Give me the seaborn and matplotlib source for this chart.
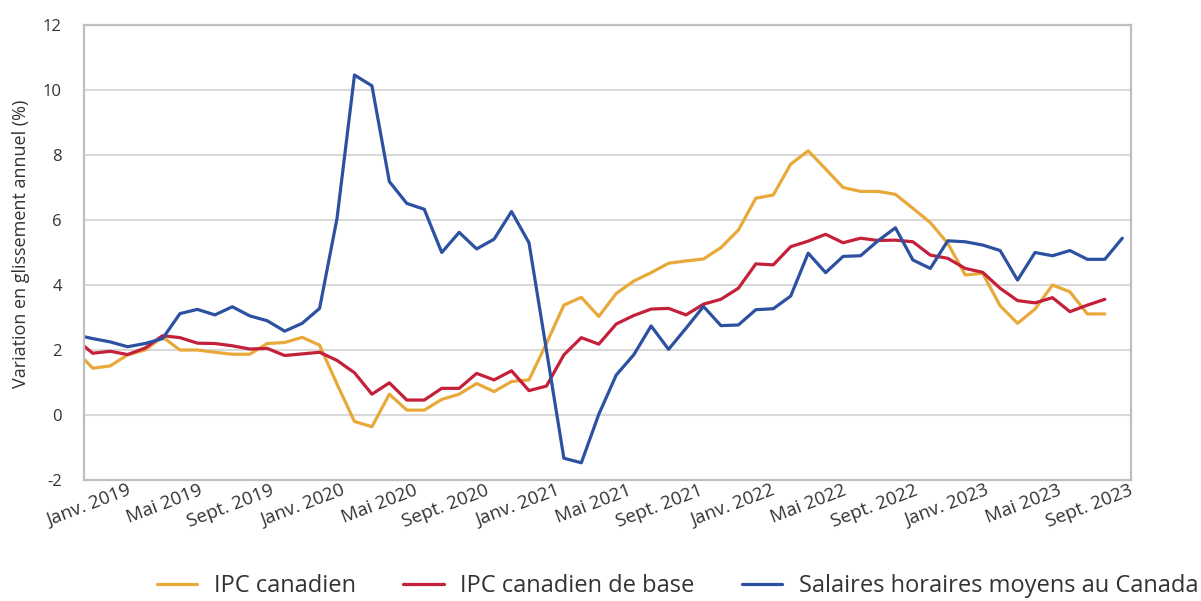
import numpy as np
import pandas as pd
import matplotlib
matplotlib.use("Agg")
import matplotlib.pyplot as plt
from matplotlib.lines import Line2D
import seaborn as sns

# ---- data (month index: -1 = Dec 2018, 0 = Jan 2019, ...) ----
ipc = [2.0, 1.44, 1.51, 1.85, 2.0, 2.4, 2.0, 2.0, 1.93, 1.87, 1.87, 2.2, 2.23,
       2.39, 2.15, 0.95, -0.2, -0.36, 0.64, 0.15, 0.15, 0.48, 0.64, 0.97, 0.72,
       1.03, 1.08, 2.2, 3.38, 3.62, 3.03, 3.74, 4.12, 4.38, 4.67, 4.74, 4.8,
       5.15, 5.69, 6.67, 6.77, 7.72, 8.13, 7.57, 7.0, 6.88, 6.88, 6.79, 6.36,
       5.92, 5.28, 4.31, 4.36, 3.36, 2.82, 3.26, 4.0, 3.79, 3.11, 3.11]
ipc_base = [2.34, 1.9, 1.96, 1.86, 2.06, 2.44, 2.38, 2.21, 2.2, 2.13, 2.03, 2.05,
            1.83, 1.88, 1.93, 1.68, 1.3, 0.64, 0.99, 0.46, 0.46, 0.82, 0.82,
            1.28, 1.08, 1.36, 0.75, 0.89, 1.85, 2.38, 2.18, 2.8, 3.06, 3.26,
            3.28, 3.08, 3.41, 3.56, 3.9, 4.65, 4.62, 5.18, 5.35, 5.56, 5.3,
            5.44, 5.37, 5.38, 5.33, 4.92, 4.82, 4.51, 4.39, 3.9, 3.52, 3.45,
            3.61, 3.18, 3.38, 3.56]
salaires = [2.47, 2.35, 2.25, 2.1, 2.2, 2.35, 3.12, 3.25, 3.08, 3.33, 3.05, 2.9,
            2.58, 2.82, 3.28, 6.05, 10.46, 10.13, 7.18, 6.51, 6.33, 5.0, 5.62,
            5.11, 5.41, 6.26, 5.3, 2.0, -1.33, -1.47, 0.02, 1.23, 1.85, 2.74,
            2.02, 2.67, 3.34, 2.75, 2.77, 3.24, 3.27, 3.66, 4.98, 4.38, 4.88,
            4.9, 5.36, 5.76, 4.77, 4.51, 5.36, 5.33, 5.23, 5.06, 4.15, 5.0,
            4.9, 5.06, 4.79, 4.79, 5.44]

series_names = ["IPC canadien", "IPC canadien de base",
                "Salaires horaires moyens au Canada"]
colors = ["#E9A93A", "#C4203A", "#2C51A0"]

tick_months = list(range(0, 57, 4))
tick_labels = ["Janv. 2019", "Mai 2019", "Sept. 2019", "Janv. 2020", "Mai 2020",
               "Sept. 2020", "Janv. 2021", "Mai 2021", "Sept. 2021", "Janv. 2022",
               "Mai 2022", "Sept. 2022", "Janv. 2023", "Mai 2023", "Sept. 2023"]
y_ticks = [-2, 0, 2, 4, 6, 8, 10, 12]
y_tick_labels = ["-2", "0", "2", "4", "6", "8", "10", "12"]

frames = []
for name, vals in zip(series_names, [ipc, ipc_base, salaires]):
    frames.append(pd.DataFrame({"mois": np.arange(-1, -1 + len(vals)),
                                "valeur": vals, "serie": name}))
df = pd.concat(frames, ignore_index=True)

# ---- style ----
sns.set_style("white")
plt.rcParams["font.family"] = ["Open Sans", "DejaVu Sans"]

fig = plt.figure(figsize=(12.01, 6.01), dpi=100)
ax = fig.add_axes([84 / 1201, 1 - 480 / 601, (1131 - 84) / 1201, (480 - 25) / 601])

sns.lineplot(data=df, x="mois", y="valeur", hue="serie", hue_order=series_names,
             palette=colors, linewidth=2.3, ax=ax, legend=False, sort=False)

ax.set_xlim(-0.5, 59.5)
ax.set_ylim(-2, 12)
ax.set_yticks(y_ticks)
ax.set_yticklabels(y_tick_labels, fontsize=12, color="#333333")

# rotated labels are anchored by their top-right corner, to the right of each month
label_anchor = np.array(tick_months) * 1.025 + 1.96
ax.set_xticks(label_anchor)
ax.set_xticklabels(tick_labels, fontsize=13.5, color="#333333", rotation=21,
                   ha="right", va="top", rotation_mode="anchor")

ax.tick_params(axis="both", length=0)
ax.tick_params(axis="y", pad=16)
ax.tick_params(axis="x", pad=1)
ax.grid(axis="y", color="#D9D9D9", linewidth=1.5)
ax.grid(axis="x", visible=False)
ax.set_axisbelow(True)
for sp in ax.spines.values():
    sp.set_visible(True)
    sp.set_color("#BFBFBF")
    sp.set_linewidth(1.6)

ax.set_xlabel("")
ax.set_ylabel("Variation en glissement annuel (%)", fontsize=13, color="#333333")
ax.yaxis.set_label_coords(-0.052, 0.52)

handles = [Line2D([0], [0], color=c, linewidth=2.3) for c in colors]
fig.legend(handles, series_names, loc="center left",
           bbox_to_anchor=(157 / 1201, 15 / 601), bbox_transform=fig.transFigure,
           ncol=3, frameon=False, fontsize=17, handlelength=1.7,
           handletextpad=0.72, columnspacing=2.0, borderpad=0, borderaxespad=0,
           labelcolor="#333333")

fig.savefig("out.png", dpi=100)
